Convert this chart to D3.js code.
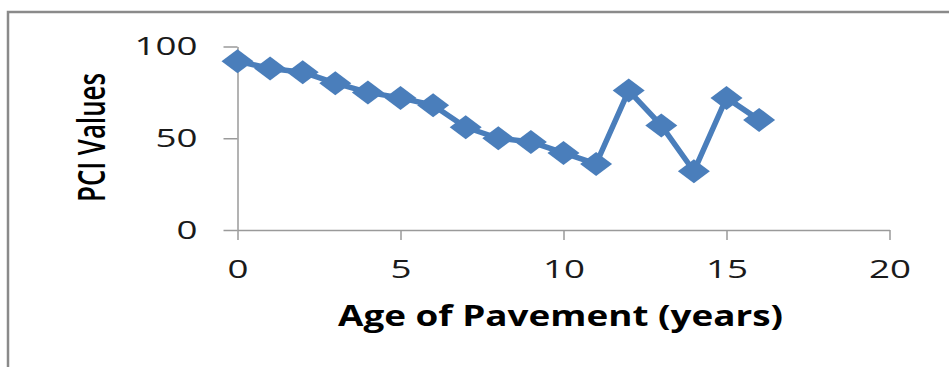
<!DOCTYPE html>
<html>
<head>
<meta charset="utf-8">
<script src="https://cdn.jsdelivr.net/npm/d3@7"></script>
<style>
  html, body { margin: 0; padding: 0; background: #fff; }
  svg { display: block; }
</style>
</head>
<body>
<svg id="chart" width="949" height="367"></svg>
<script>
// values
const ages = [0, 1, 2, 3, 4, 5, 6, 7, 8, 9, 10, 11, 12, 13, 14, 15, 16];
const pci = [92, 88, 86, 80, 75, 72, 68, 56, 50, 48, 42, 36, 76, 57, 32, 72, 60];
const xTicks = [0, 5, 10, 15, 20];
const yTicks = [0, 50, 100];

const svg = d3.select("#chart");
const width = 949;
const height = 367;
const plot = { left: 237.5, right: 889.5, top: 46.5, bottom: 230 };
const blue = "#4a7ebb";
const axisColor = "#9a9a9a";
const digitWidth = 21;

// outer frame (right and bottom edges fall outside the picture)
svg.append("rect")
  .attr("x", 8)
  .attr("y", 12)
  .attr("width", width + 20)
  .attr("height", height + 20)
  .attr("fill", "none")
  .attr("stroke", "#8a8a8a")
  .attr("stroke-width", 2.5);

const x = d3.scaleLinear().domain([0, 20]).range([plot.left, plot.right]);
const y = d3.scaleLinear().domain([0, 100]).range([plot.bottom, plot.top]);

function styleAxis(g) {
  g.select(".domain").attr("stroke", axisColor).attr("stroke-width", 1.5);
  g.selectAll(".tick line").attr("stroke", axisColor).attr("stroke-width", 1.5);
  g.selectAll(".tick text")
    .attr("fill", "#1a1a1a")
    .style("font-family", "'Open Sans', 'DejaVu Sans', sans-serif")
    .style("font-size", "26px")
    .attr("textLength", d => String(d).length * digitWidth)
    .attr("lengthAdjust", "spacingAndGlyphs");
}

svg.append("g")
  .attr("transform", `translate(0,${plot.bottom})`)
  .call(d3.axisBottom(x).tickValues(xTicks).tickSizeInner(10).tickSizeOuter(0).tickPadding(20))
  .call(styleAxis);

svg.append("g")
  .attr("transform", `translate(${plot.left},0)`)
  .call(d3.axisLeft(y).tickValues(yTicks).tickSizeInner(14).tickSizeOuter(0).tickPadding(26))
  .call(styleAxis);

// series
const line = d3.line()
  .x((d, i) => x(ages[i]))
  .y(d => y(d));

svg.append("path")
  .datum(pci)
  .attr("d", line)
  .attr("fill", "none")
  .attr("stroke", blue)
  .attr("stroke-width", 5.5)
  .attr("stroke-linejoin", "round");

svg.selectAll(".marker")
  .data(pci)
  .join("path")
  .attr("class", "marker")
  .attr("d", "M0,-12L16,0L0,12L-16,0Z")
  .attr("transform", (d, i) => `translate(${x(ages[i])},${y(d)})`)
  .attr("fill", blue);

// axis titles
svg.append("text")
  .attr("x", (plot.left + plot.right) / 2 - 3)
  .attr("y", 326)
  .attr("text-anchor", "middle")
  .attr("textLength", 445)
  .attr("lengthAdjust", "spacingAndGlyphs")
  .style("font-family", "'Open Sans', 'DejaVu Sans', sans-serif")
  .style("font-weight", "bold")
  .style("font-size", "28px")
  .attr("fill", "#000")
  .text("Age of Pavement (years)");

svg.append("text")
  .attr("transform", "translate(105,137.5) rotate(-90)")
  .attr("text-anchor", "middle")
  .attr("textLength", 129)
  .attr("lengthAdjust", "spacingAndGlyphs")
  .style("font-family", "'Open Sans', 'DejaVu Sans', sans-serif")
  .style("font-weight", "600")
  .style("font-size", "37px")
  .attr("fill", "#000")
  .text("PCI Values");
</script>
</body>
</html>
